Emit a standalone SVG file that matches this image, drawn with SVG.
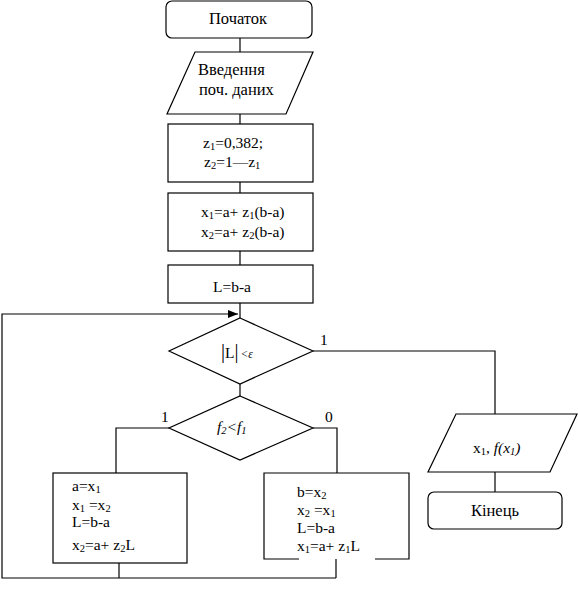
<svg xmlns="http://www.w3.org/2000/svg" width="578" height="599" viewBox="0 0 578 599">
<style>
.s{fill:#fff;stroke:#000;stroke-width:1.2}
.c{fill:none;stroke:#000;stroke-width:1.2}
text{font-family:"Liberation Serif","Times New Roman",serif;font-size:15.5px;fill:#000}
.big{font-size:16.5px}
.sub{font-size:10.5px}
.i{font-style:italic}
</style>
<defs>
<marker id="arr" viewBox="0 0 10 8" refX="10" refY="4" markerWidth="10" markerHeight="8" markerUnits="userSpaceOnUse" orient="auto">
<path d="M0,0 L10,4 L0,8 Z" fill="#000"/>
</marker>
</defs>
<rect width="578" height="599" fill="#fff"/>
<g id="connectors">
<path class="c" d="M240,38 V52"/>
<path class="c" d="M240,114 V124"/>
<path class="c" d="M240,182 V193"/>
<path class="c" d="M240,251 V265"/>
<path class="c" d="M240,303 V318"/>
<path class="c" d="M240,384 V396"/>
<path class="c" d="M313,351 H495 V414"/>
<path class="c" d="M169,428 H116 V473"/>
<path class="c" d="M313,428 H337 V473"/>
<path class="c" d="M119,563 V578"/>
<path class="c" d="M336,559 V578"/>
<path class="c" d="M336,578 H2 V314 H238" marker-end="url(#arr)"/>
<path class="c" d="M495,472 V492"/>
<text x="320" y="345">1</text>
<text x="161" y="422">1</text>
<text x="325" y="422">0</text>
</g>
<g id="start">
<rect class="s" x="166" y="1" width="146" height="37" rx="6"/>
<text class="big" x="238" y="24" text-anchor="middle">Початок</text>
</g>
<g id="input">
<polygon class="s" points="195,52 313,52 286,114 167,114"/>
<text class="big" x="198" y="75">Введення</text>
<text class="big" x="199" y="95">поч. даних</text>
</g>
<g id="init">
<rect class="s" x="168" y="124" width="145" height="58"/>
<text x="203" y="148">z<tspan class="sub" dy="2">1</tspan><tspan dy="-2">=0,382;</tspan></text>
<text x="204" y="167">z<tspan class="sub" dy="2">2</tspan><tspan dy="-2">=1—z</tspan><tspan class="sub" dy="2">1</tspan></text>
</g>
<g id="points">
<rect class="s" x="168" y="193" width="145" height="58"/>
<text x="201" y="217">x<tspan class="sub" dy="2">1</tspan><tspan dy="-2">=a+ z</tspan><tspan class="sub" dy="2">1</tspan><tspan dy="-2">(b-a)</tspan></text>
<text x="201" y="237">x<tspan class="sub" dy="2">2</tspan><tspan dy="-2">=a+ z</tspan><tspan class="sub" dy="2">2</tspan><tspan dy="-2">(b-a)</tspan></text>
</g>
<g id="length">
<rect class="s" x="168" y="265" width="145" height="38"/>
<text x="213" y="292">L=b-a</text>
</g>
<g id="cond1">
<polygon class="s" points="240,318 313,351 240,384 169,351"/>
<text x="221" y="358"><tspan font-size="20">|</tspan><tspan>L</tspan><tspan font-size="20">|</tspan><tspan class="i" font-size="11.5" dx="2">&lt;ε</tspan></text>
</g>
<g id="cond2">
<polygon class="s" points="240,396 313,428 240,460 169,428"/>
<text x="217" y="432" class="i">f<tspan class="sub" dy="2">2</tspan><tspan dy="-2">&lt;f</tspan><tspan class="sub" dy="2">1</tspan></text>
</g>
<g id="left-box">
<rect class="s" x="53" y="473" width="134" height="90"/>
<text x="72" y="491">a=x<tspan class="sub" dy="2">1</tspan></text>
<text x="72" y="510">x<tspan class="sub" dy="2">1</tspan><tspan dy="-2"> =x</tspan><tspan class="sub" dy="2">2</tspan></text>
<text x="72" y="527">L=b-a</text>
<text x="72" y="550">x<tspan class="sub" dy="2">2</tspan><tspan dy="-2">=a+ z</tspan><tspan class="sub" dy="2">2</tspan><tspan dy="-2">L</tspan></text>
</g>
<g id="right-box">
<path class="s" d="M299,559 H264 V473 H409 V559 H375"/>
<text x="297" y="497">b=x<tspan class="sub" dy="2">2</tspan></text>
<text x="297" y="515">x<tspan class="sub" dy="2">2</tspan><tspan dy="-2"> =x</tspan><tspan class="sub" dy="2">1</tspan></text>
<text x="297" y="533">L=b-a</text>
<text x="297" y="551">x<tspan class="sub" dy="2">1</tspan><tspan dy="-2">=a+ z</tspan><tspan class="sub" dy="2">1</tspan><tspan dy="-2">L</tspan></text>
</g>
<g id="output">
<polygon class="s" points="456,414 577,414 550,472 428,472"/>
<text x="473" y="453">x<tspan class="sub" dy="2">1</tspan><tspan dy="-2">, </tspan><tspan class="i">f(x<tspan class="sub" dy="2">1</tspan><tspan dy="-2">)</tspan></tspan></text>
</g>
<g id="end">
<rect class="s" x="428" y="492" width="134" height="37" rx="6"/>
<text class="big" x="495" y="516" text-anchor="middle">Кінець</text>
</g>
</svg>
